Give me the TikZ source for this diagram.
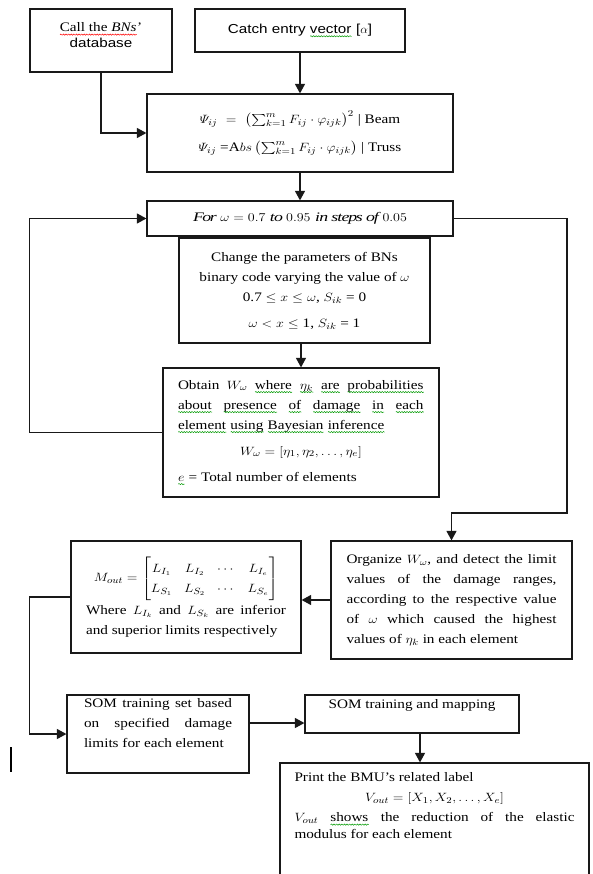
\documentclass[tikz,border=0pt]{standalone}
\usepackage{amsmath}
\usepackage{graphicx}
\usepackage{fontspec}
\setmainfont{Liberation Serif}[FakeStretch=1.17]
\setsansfont{Liberation Sans}[FakeStretch=1.17]
\usetikzlibrary{arrows.meta,positioning,decorations.pathmorphing}

\newlength{\wavlen}
\newcommand{\wavy}[2]{\leavevmode\settowidth{\wavlen}{#2}\rlap{#2}\tikz[baseline=0pt]\draw[#1,line width=0.5pt,decorate,
  decoration={snake,segment length=2.6pt,amplitude=0.6pt}] (0pt,-3pt) -- (\wavlen,-3pt);}
\newcommand{\gw}{\wavy{green!60!black}}
\newcommand{\rw}{\wavy{red}}
\newcommand{\sm}[1]{\scalebox{1.17}[1]{$#1$}}

\begin{document}
\begin{tikzpicture}[x=1pt,y=-1pt,
    box/.style={draw=black!90,line width=1.2pt,inner sep=0pt},
    txt/.style={font=\fontsize{13}{20}\selectfont,inner sep=0pt},
    >={Triangle[length=9.5pt,width=10pt]},
    flow/.style={->,line width=1.2pt,draw=black!90}]
  \useasboundingbox (0,0) rectangle (593,874);
  \clip (0,0) rectangle (593,874);
  % top row
  \node (call) at (101,40.5) [box,minimum width=142pt,minimum height=63pt] {};
  \node (calltxt) [below=14pt of call.north,txt,align=center,font=\fontsize{13}{16}\selectfont]
    {\rw{Call the \textit{BNs}}'\\\sffamily database};
  \node (catch) at (300,30.5) [box,txt,minimum width=210pt,minimum height=43pt]
    {\sffamily Catch entry \gw{vector} [$\alpha$]};
  \node (psi) at (300,133) [box,txt,minimum width=306pt,minimum height=78pt,align=center]
    {\sm{\varPsi_{ij}\ =\ \left(\sum_{k=1}^{m} F_{ij}\cdot\varphi_{ijk}\right)^{2}} | Beam\\[8pt]
     \sm{\varPsi_{ij}} =A\sm{bs\left(\sum_{k=1}^{m} F_{ij}\cdot\varphi_{ijk}\right)} | Truss};
  % loop over omega
  \node (loop) at (300,218.5) [box,txt,minimum width=306pt,minimum height=35pt]
    {\sm{\mathit{For}\ \omega = 0.7\ \mathit{to}\ 0.95\ \mathit{in\ steps\ of}\ 0.05}};
  \node (change) at (304.5,290.5) [box,txt,minimum width=251pt,minimum height=105pt,align=center]
    {Change the parameters of BNs\\ binary code varying the value of \sm{\omega}\\
     0.7 \sm{\leq x \leq \omega}, \sm{S_{ik}} = 0\\[6pt]
     \sm{\omega < x \leq} 1, \sm{S_{ik}} = 1};
  \node (obtain) at (301,432.5) [box,txt,minimum width=276pt,minimum height=129pt,text width=246pt,align=justify]
    {Obtain \sm{W_\omega} \gw{where} \gw{\sm{\eta_k}} \gw{are} \gw{probabilities} \gw{about} \gw{presence}
     \gw{of} \gw{damage} \gw{in} \gw{each} \gw{element} \gw{using} \gw{Bayesian} \gw{inference}\par
     \vspace{6pt}{\centering\sm{W_\omega = [\eta_1, \eta_2, \dots, \eta_e]}\par}
     \vspace{6pt}\gw{\sm{e}}\ = Total number of elements};
  % limits
  \node (organize) at (451.5,600) [box,txt,minimum width=241pt,minimum height=118pt,text width=210pt,align=justify]
    {Organize \sm{W_\omega}, and detect the limit\linebreak values of the damage ranges,\linebreak
     according to the respective value\linebreak of \sm{\omega} which caused the highest\linebreak
     values of \sm{\eta_k} in each element};
  \node (mout) at (186,597) [box,txt,minimum width=230pt,minimum height=112pt,text width=200pt,align=justify]
    {{\centering\sm{M_{out} = \begin{bmatrix} L_{I_1} & L_{I_2} & \cdots & L_{I_e}\\ L_{S_1} & L_{S_2} & \cdots & L_{S_e}\end{bmatrix}}\par}
     \vspace{4pt}Where \sm{L_{I_k}} and \sm{L_{S_k}} are inferior\linebreak and superior limits respectively};
  % SOM
  \node (somset) at (158,734) [box,minimum width=182pt,minimum height=78pt] {};
  \node (somsettxt) [below=4pt of somset.north,txt,text width=148pt,align=justify]
    {SOM training set based\linebreak on specified damage\linebreak limits for each element};
  \node (sommap) at (412,714) [box,minimum width=214pt,minimum height=38pt] {};
  \node (sommaptxt) [below=5pt of sommap.north,txt] {SOM training and mapping};
  \node (print) at (434.5,833) [box,minimum width=309pt,minimum height=140pt] {};
  \node (printtxt) [below=10pt of print.north,txt,text width=280pt,align=justify,font=\fontsize{13}{17}\selectfont]
    {Print the BMU's related label\par\vspace{3pt}
     {\centering\sm{V_{out} = [X_1, X_2, \dots, X_e]}\par}\vspace{3pt}
     \sm{V_{out}} \gw{shows} the reduction of the elastic\linebreak modulus for each element};
  % connectors
  \draw[flow] (catch) -- (psi);
  \draw[flow] (call.south) |- (psi.west);
  \draw[flow] (psi) -- (loop);
  \draw[flow] (change.south -| obtain.north) -- (obtain.north);
  \draw[flow] (obtain.west) -- ++(-133,0) |- (loop.west);
  \coordinate (rt) at (567,513);
  \draw[flow] (loop.east) -| (rt) -| (organize.north);
  \draw[flow] (organize.west) -- (organize.west -| mout.east);
  \draw[flow] (mout.west) -- ++(-41,0) |- (somset.west);
  \path ([yshift=11pt]somset.east) coordinate (s1);
  \draw[flow] (s1) -- (s1 -| sommap.west);
  \path ([xshift=8pt]sommap.south) coordinate (m1);
  \draw[flow] (m1) -- (m1 |- print.north);
  \draw[line width=2.6pt] (11,747) -- (11,772);
\end{tikzpicture}
\end{document}
